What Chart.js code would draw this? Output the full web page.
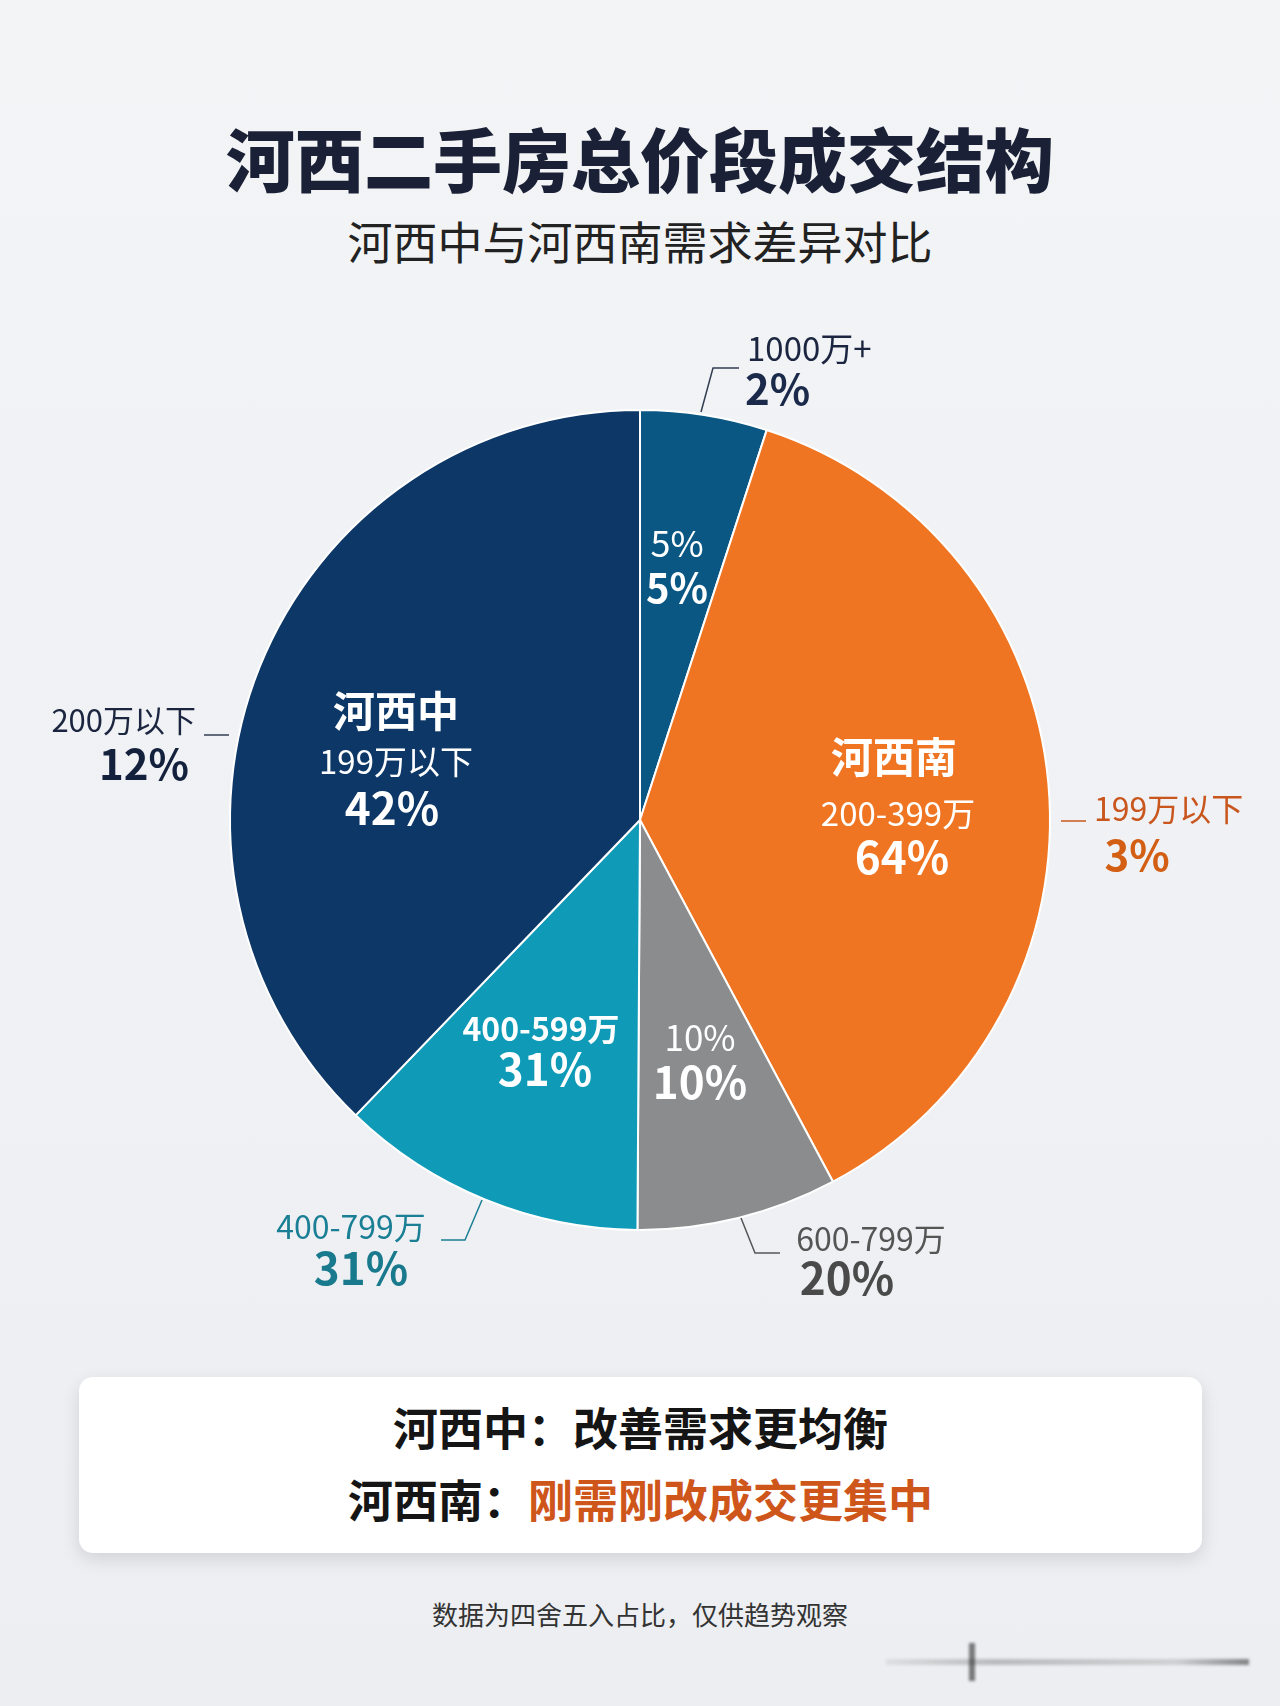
<!DOCTYPE html>
<html lang="zh-CN">
<head>
<meta charset="utf-8">
<title>河西二手房总价段成交结构</title>
<script src="https://cdn.jsdelivr.net/npm/chart.js@4.4.1/dist/chart.umd.min.js"></script>
<style>
  html, body { margin: 0; padding: 0; }
  body {
    width: 1280px; height: 1706px; position: relative; overflow: hidden;
    background: linear-gradient(180deg, #f3f4f6 0%, #eff1f4 55%, #eceef1 100%);
    font-family: "Noto Sans CJK SC", "Noto Sans", sans-serif;
  }
  .title {
    position: absolute; top: 114px; left: 0; width: 1280px; text-align: center;
    font-size: 69px; font-weight: 900; color: #1a2035; line-height: 86px;
  }
  .subtitle {
    position: absolute; top: 213px; left: 0; width: 1280px; text-align: center;
    font-size: 45px; font-weight: 400; color: #222; line-height: 56px;
  }
  .chart-wrap { position: absolute; top: 300px; left: 0; width: 1280px; height: 1000px; }
  .card {
    position: absolute; left: 79px; top: 1377px; width: 1123px; height: 176px;
    background: #fff; border-radius: 14px;
    box-shadow: 0 6px 18px rgba(0, 0, 0, 0.12);
  }
  .card p {
    position: absolute; left: 0; width: 100%; margin: 0; text-align: center;
    font-size: 45px; font-weight: 700; color: #151515; line-height: 56px;
  }
  .card .l1 { top: 22px; }
  .card .l2 { top: 94px; }
  .card .hl { color: #cf561b; }
  .footer {
    position: absolute; top: 1597px; left: 0; width: 1280px; text-align: center;
    font-size: 26px; color: #333; line-height: 34px;
  }
  .mark-h {
    position: absolute; left: 886px; top: 1659px; width: 363px; height: 6px;
    background: linear-gradient(90deg, rgba(90,90,90,0.1), rgba(90,90,90,0.35) 30%, rgba(120,120,120,0.25) 80%, rgba(60,60,60,0.6));
    filter: blur(1.5px);
  }
  .mark-v {
    position: absolute; left: 969px; top: 1643px; width: 6px; height: 38px;
    background: rgba(40,40,40,0.6); filter: blur(1.5px);
  }
</style>
</head>
<body>
<div class="title">河西二手房总价段成交结构</div>
<div class="subtitle">河西中与河西南需求差异对比</div>
<div class="chart-wrap"><canvas id="pieChart" width="1280" height="1000"></canvas></div>
<div class="card">
  <p class="l1">河西中：改善需求更均衡</p>
  <p class="l2">河西南：<span class="hl">刚需刚改成交更集中</span></p>
</div>
<div class="footer">数据为四舍五入占比，仅供趋势观察</div>
<div class="mark-h"></div>
<div class="mark-v"></div>

<script>
// slices clockwise from 12 o'clock, sized as drawn in the picture
const categories = ["1000万+", "河西南 200-399万", "600-799万", "400-599万", "河西中 199万以下"];
const shares = [5, 37.2, 7.9, 12.1, 37.8];
const sliceColors = ["#0b5784", "#f07522", "#8b8c8e", "#0f9bb7", "#0c3767"];

// texts printed on and around the pie
const innerTexts = ["5%", "5%", "河西中", "199万以下", "42%", "河西南", "200-399万", "64%",
  "400-599万", "31%", "10%", "10%"];
const outerTexts = ["1000万+", "2%", "200万以下", "12%", "199万以下", "3%",
  "400-799万", "31%", "600-799万", "20%"];

// page-pixel layout, offsets measured from the pie centre (640, 820)
const W = "#ffffff";
const innerLayout = [
  { x: 37, y: -277, size: 36, weight: 400, color: W },
  { x: 37, y: -232, size: 40, weight: 700, color: W },
  { x: -244, y: -109, size: 42, weight: 700, color: W },
  { x: -244, y: -59, size: 33, weight: 400, color: W },
  { x: -248, y: -12, size: 44, weight: 700, color: W },
  { x: 254, y: -63, size: 42, weight: 700, color: W },
  { x: 258, y: -7, size: 33, weight: 400, color: W },
  { x: 262, y: 37, size: 44, weight: 700, color: W },
  { x: -99, y: 209, size: 32, weight: 600, color: W },
  { x: -95, y: 249, size: 44, weight: 700, color: W },
  { x: 60, y: 218, size: 35, weight: 400, color: W },
  { x: 60, y: 262, size: 44, weight: 700, color: W }
];
const outerLayout = [
  { x: 107, y: -472, size: 33, weight: 400, color: "#1b2540", align: "left" },
  { x: 105, y: -431, size: 42, weight: 700, color: "#1b2a4a", align: "left" },
  { x: -444, y: -100, size: 31, weight: 400, color: "#1b2540", align: "right" },
  { x: -496, y: -56, size: 42, weight: 700, color: "#14213d" },
  { x: 454, y: -11, size: 32, weight: 400, color: "#c9561d", align: "left" },
  { x: 497, y: 35, size: 42, weight: 700, color: "#d35f15" },
  { x: -289, y: 407, size: 32, weight: 400, color: "#1a7f95" },
  { x: -279, y: 448, size: 44, weight: 700, color: "#197a8e" },
  { x: 231, y: 419, size: 32, weight: 400, color: "#555555" },
  { x: 207, y: 458, size: 44, weight: 700, color: "#4a4a4a" }
];
const leaderLines = [
  { pts: [[99, -452], [73, -452], [61, -408]], color: "#333d52" },
  { pts: [[-436, -85], [-411, -85]], color: "#333d52" },
  { pts: [[421, 1], [446, 1]], color: "#c9561d" },
  { pts: [[-158, 380], [-175, 420], [-199, 420]], color: "#1a7f95" },
  { pts: [[101, 398], [115, 433], [140, 433]], color: "#555555" }
];

const calloutPlugin = {
  id: "callouts",
  afterDatasetsDraw(chart) {
    const arc = chart.getDatasetMeta(0).data[0];
    const cx = arc.x, cy = arc.y;
    const ctx = chart.ctx;
    ctx.save();
    ctx.lineWidth = 1.5;
    leaderLines.forEach((l) => {
      ctx.strokeStyle = l.color;
      ctx.beginPath();
      l.pts.forEach((p, i) => {
        if (i === 0) ctx.moveTo(cx + p[0], cy + p[1]);
        else ctx.lineTo(cx + p[0], cy + p[1]);
      });
      ctx.stroke();
    });
    ctx.textBaseline = "middle";
    const draw = (texts, layout) => {
      texts.forEach((t, i) => {
        const s = layout[i];
        ctx.font = `${s.weight} ${s.size}px "Noto Sans CJK SC", "Noto Sans", sans-serif`;
        ctx.fillStyle = s.color;
        ctx.textAlign = s.align || "center";
        ctx.fillText(t, cx + s.x, cy + s.y);
      });
    };
    draw(innerTexts, innerLayout);
    draw(outerTexts, outerLayout);
    ctx.restore();
  }
};

const pieChart = new Chart(document.querySelector("#pieChart"), {
  type: "pie",
  data: {
    labels: categories,
    datasets: [
      {
        data: shares,
        backgroundColor: sliceColors,
        borderColor: "#ffffff",
        borderWidth: 2,
      },
    ],
  },
  options: {
    responsive: false,
    animation: false,
    layout: { padding: { top: 109, bottom: 69, left: 0, right: 0 } },
    plugins: {
      legend: { display: false },
      tooltip: { enabled: false },
    },
  },
  plugins: [calloutPlugin],
});
</script>
</body>
</html>
